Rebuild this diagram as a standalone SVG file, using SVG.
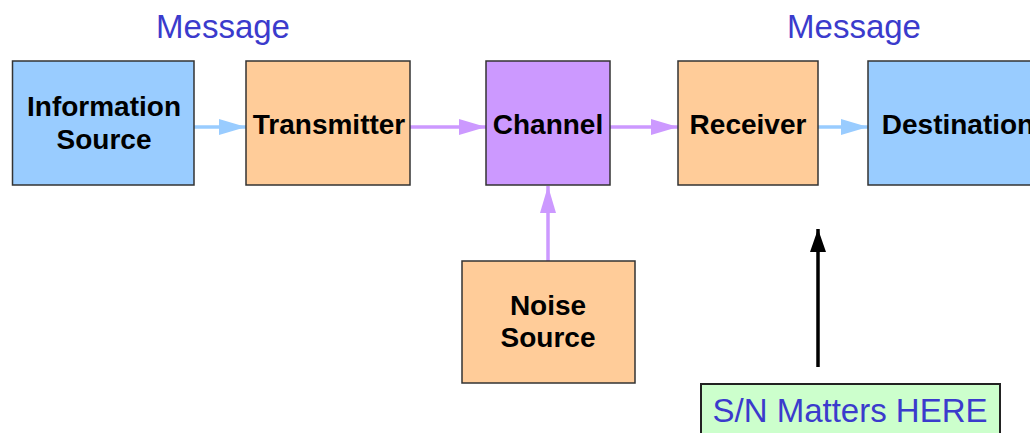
<svg xmlns="http://www.w3.org/2000/svg" width="1030" height="433" viewBox="0 0 1030 433">
<style>
.box{stroke:#333333;stroke-width:1.5}
.blue{fill:#99CCFF}
.orange{fill:#FFCC99}
.purple{fill:#CC99FF}
.green{fill:#CCFFCC;stroke:#222222;stroke-width:2}
.lbl{font-family:"Liberation Sans",Arial,sans-serif;font-weight:bold;font-size:28px;fill:#000;text-anchor:middle}
.msg{font-family:"Liberation Sans",Arial,sans-serif;font-size:33px;fill:#3B3BCC;text-anchor:middle}
.sn{font-family:"Liberation Sans",Arial,sans-serif;font-size:33px;fill:#3B3BCC;text-anchor:middle}
.lb{stroke:#99CCFF;stroke-width:3.5;fill:none}
.lp{stroke:#CC99FF;stroke-width:3.5;fill:none}
.bk{stroke:#000;stroke-width:3.5;fill:none}
</style>
<defs>
<marker id="ab" markerUnits="userSpaceOnUse" markerWidth="28" markerHeight="16" refX="27" refY="8" orient="auto"><path d="M0,0 L27,8 L0,16 Z" fill="#99CCFF"/></marker>
<marker id="ap" markerUnits="userSpaceOnUse" markerWidth="28" markerHeight="16" refX="27" refY="8" orient="auto"><path d="M0,0 L27,8 L0,16 Z" fill="#CC99FF"/></marker>
<marker id="ak" markerUnits="userSpaceOnUse" markerWidth="24" markerHeight="16" refX="23" refY="8" orient="auto"><path d="M0,0 L23,8 L0,16 Z" fill="#000"/></marker>
</defs>
<text class="msg" x="223" y="38">Message</text>
<text class="msg" x="854" y="38">Message</text>
<g id="connectors">
<line class="lb" x1="194" y1="127" x2="246" y2="127" marker-end="url(#ab)"/>
<line class="lp" x1="410" y1="127" x2="486" y2="127" marker-end="url(#ap)"/>
<line class="lp" x1="610" y1="127" x2="678" y2="127" marker-end="url(#ap)"/>
<line class="lb" x1="818" y1="127" x2="868" y2="127" marker-end="url(#ab)"/>
<line class="lp" x1="548" y1="261" x2="548" y2="186" marker-end="url(#ap)"/>
<line class="bk" x1="818" y1="367" x2="818" y2="229" marker-end="url(#ak)"/>
</g>
<g id="info-source">
<rect class="box blue" x="12.5" y="61" width="181.5" height="124"/>
<text class="lbl" x="104" y="116">Information</text>
<text class="lbl" x="104" y="149">Source</text>
</g>
<g id="transmitter">
<rect class="box orange" x="246" y="61" width="164" height="124"/>
<text class="lbl" x="329" y="134">Transmitter</text>
</g>
<g id="channel">
<rect class="box purple" x="486" y="61" width="124" height="124"/>
<text class="lbl" x="548" y="134">Channel</text>
</g>
<g id="receiver">
<rect class="box orange" x="678" y="61" width="140" height="124"/>
<text class="lbl" x="748" y="134">Receiver</text>
</g>
<g id="destination">
<rect class="box blue" x="868" y="61" width="180" height="124"/>
<text class="lbl" x="958" y="134">Destination</text>
</g>
<g id="noise-source">
<rect class="box orange" x="462" y="261" width="173" height="122"/>
<text class="lbl" x="548" y="315">Noise</text>
<text class="lbl" x="548" y="347">Source</text>
</g>
<g id="sn-note">
<rect class="green" x="701" y="384" width="299" height="60"/>
<text class="sn" x="850" y="422">S/N Matters HERE</text>
</g>
</svg>
